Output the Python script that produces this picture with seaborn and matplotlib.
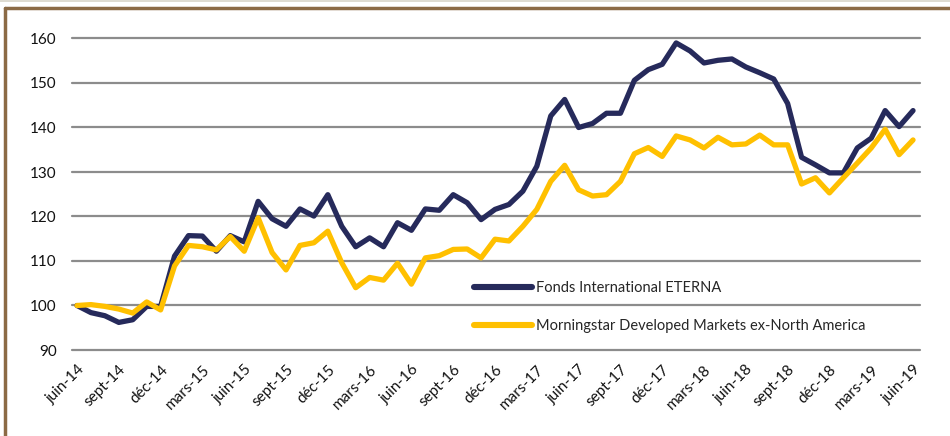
import pandas as pd
import seaborn as sns
import matplotlib.pyplot as plt
from matplotlib.lines import Line2D

# mois de juin-14 à juin-19
mois = ['juin', 'juil', 'août', 'sept', 'oct', 'nov', 'déc', 'janv', 'févr', 'mars', 'avr', 'mai']
dates = [f'{mois[i % 12]}-{14 + (i + 5) // 12}' for i in range(61)]

eterna = [100, 98.4, 97.7, 96.2, 96.8, 99.8, 99.8, 111.1, 115.7, 115.6,
          112.2, 115.7, 114.3, 123.4, 119.5, 117.8, 121.7, 120.1, 124.9, 117.8,
          113.2, 115.2, 113.2, 118.6, 116.9, 121.7, 121.4, 124.9, 123.1, 119.3,
          121.6, 122.7, 125.7, 131.3, 142.6, 146.3, 140.0, 140.9, 143.2, 143.2,
          150.6, 153.0, 154.2, 159.0, 157.2, 154.5, 155.1, 155.4, 153.6, 152.3,
          150.9, 145.4, 133.3, 131.6, 129.8, 129.8, 135.4, 137.6, 143.8, 140.2,
          143.8]

morningstar = [100, 100.2, 99.8, 99.2, 98.3, 100.8, 99.0, 108.9, 113.5, 113.2,
               112.5, 115.5, 112.2, 119.7, 111.9, 108.0, 113.5, 114.1, 116.7, 109.6,
               104.0, 106.3, 105.7, 109.5, 104.8, 110.7, 111.2, 112.6, 112.7, 110.7,
               114.9, 114.5, 117.8, 121.6, 127.9, 131.5, 126.0, 124.6, 124.9, 127.9,
               134.1, 135.5, 133.5, 138.1, 137.2, 135.4, 137.8, 136.1, 136.3, 138.3,
               136.1, 136.1, 127.3, 128.7, 125.3, 128.7, 132.0, 135.4, 139.6, 133.9,
               137.2]

series = ['Fonds International ETERNA', 'Morningstar Developed Markets ex-North America']
couleurs = ['#262A5B', '#FFC000']

df = pd.DataFrame({
    'mois': list(range(61)) * 2,
    'valeur': eterna + morningstar,
    'serie': [series[0]] * 61 + [series[1]] * 61,
})

sns.set_style('white')
plt.rcParams['font.family'] = ['Lato', 'DejaVu Sans']

fig = plt.figure(figsize=(9.5, 4.36), dpi=100)
ax = fig.add_axes([72 / 950, 86 / 436, 848 / 950, 311.5 / 436])

# grille
for v in range(90, 161, 10):
    ax.axhline(v, color='#8C8C8C', lw=1.6, zorder=0)

sns.lineplot(data=df, x='mois', y='valeur', hue='serie', palette=couleurs,
             lw=3.8, ax=ax, legend=False)

ax.set_xlim(-0.36, 60.5)
ax.set_ylim(90, 160)
for l in ax.lines:
    l.set_clip_on(False)
ax.set_yticks(range(90, 161, 10))
ax.set_xticks(range(0, 61, 3))
ax.set_xticklabels(dates[::3], rotation=45, ha='right', rotation_mode='anchor')
ax.tick_params(axis='both', length=0, labelsize=11, colors='#111111')
ax.tick_params(axis='y', pad=11)
ax.tick_params(axis='x', pad=9)
ax.set_xlabel('')
ax.set_ylabel('')
sns.despine(ax=ax, left=True, bottom=True)

handles = [Line2D([], [], color=c, lw=4.4) for c in couleurs]
fig.legend(handles, series, loc='center left', bbox_to_anchor=(474 / 950, 1 - 307 / 436),
           frameon=False, fontsize=10.5, handlelength=4.0, handletextpad=0.25,
           labelspacing=1.6, borderpad=0, borderaxespad=0)

# cadre brun
fig.add_artist(Line2D([4.5 / 950, 4.5 / 950], [0, 1 - 8 / 436], color='#8B6A45', lw=2.5))
fig.add_artist(Line2D([4.5 / 950, 1], [1 - 8 / 436, 1 - 8 / 436], color='#8B6A45', lw=2.5))
fig.add_artist(Line2D([0, 1], [1 - 0.7 / 436, 1 - 0.7 / 436], color='#D8D4C8', lw=1.2))

plt.savefig('out.png', dpi=100)
